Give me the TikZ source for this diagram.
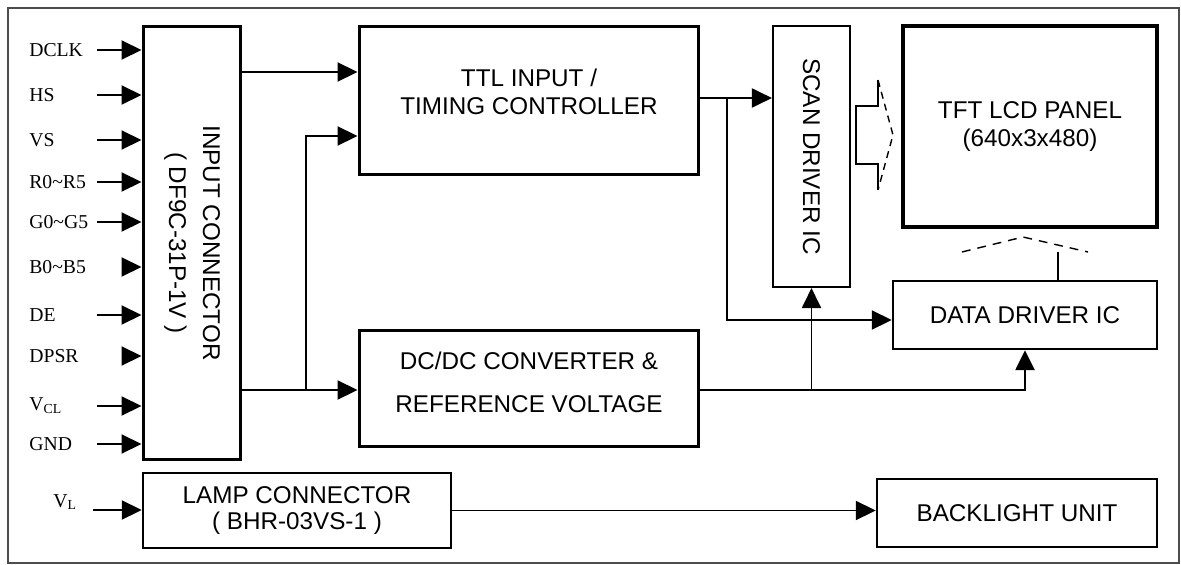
\documentclass[tikz,border=0pt]{standalone}
\usepackage{fontspec}
\setmainfont{Liberation Serif}
\setsansfont{Liberation Sans}
\usetikzlibrary{arrows.meta}

\begin{document}
\begin{tikzpicture}[x=0.02cm,y=-0.02cm,
    block/.style={draw,line width=1.7pt,inner sep=0pt,align=center,
      font=\sffamily\fontsize{13.8}{16}\selectfont},
    thinblock/.style={block,line width=1.2pt},
    sig/.style={anchor=west,inner sep=0pt,font=\fontsize{11.2}{13}\selectfont},
    arr/.style={line width=1.1pt,-{Triangle[length=0.4cm,width=0.38cm]}}]
  \useasboundingbox (0,0) rectangle (1181,565);
  \draw[black!70,line width=1.2pt] (8,8) rectangle (1179,563);

  % blocks
  \node[block,rotate=-90,minimum width=8.68cm,minimum height=1.96cm,
    font=\sffamily\fontsize{13.8}{19.3}\selectfont] (inconn) at (192,243)
    {INPUT CONNECTOR\\( DF9C-31P-1V )};
  \node[block,minimum width=6.8cm,minimum height=2.98cm,text depth=10pt] (ttl) at (529,100.5)
    {TTL INPUT /\\TIMING CONTROLLER};
  \node[block,minimum width=6.8cm,minimum height=2.34cm,text depth=7.5pt,
    font=\sffamily\fontsize{13.8}{24.5}\selectfont] (dcdc) at (529,388.5)
    {DC/DC CONVERTER \&\\REFERENCE VOLTAGE};
  \node[thinblock,rotate=-90,minimum width=5.22cm,minimum height=1.54cm] (scan) at (811.5,156.5)
    {SCAN DRIVER IC};
  \node[block,line width=2pt,minimum width=5.08cm,minimum height=4.02cm] (panel) at (1030,126.5)
    {TFT LCD PANEL\\(640x3x480)};
  \node[thinblock,line width=1.4pt,minimum width=5.28cm,minimum height=1.36cm] (datadrv) at (1025,315)
    {DATA DRIVER IC};
  \node[thinblock,line width=1.4pt,minimum width=6.16cm,minimum height=1.5cm,
    font=\sffamily\fontsize{13.8}{14.5}\selectfont] (lampconn) at (297,510.5)
    {LAMP CONNECTOR\\( BHR-03VS-1 )};
  \node[thinblock,line width=1.4pt,minimum width=5.6cm,minimum height=1.36cm] (backlight) at (1017,513)
    {BACKLIGHT UNIT};

  % input signals
  \foreach \y/\lbl/\x [count=\i] in {50/DCLK/97, 95/HS/97, 140/VS/97, 182/R0\textasciitilde R5/97,
      222/G0\textasciitilde G5/97, 267/B0\textasciitilde B5/124, 315/DE/97, 356/DPSR/124,
      406/{V\textsubscript{CL}}/97, 444/GND/97}{
    \node[sig] (sig\i) at (29,\y) {\lbl};
    \coordinate (src\i) at (\x,\y);
    \draw[arr] (src\i) -- (inconn.south |- src\i);
  }
  \node[sig] (sigvl) at (53,502) {V\textsubscript{L}};
  \coordinate (srcvl) at (93,510);
  \draw[arr] (srcvl) -- (lampconn.west |- srcvl);

  % junctions
  \coordinate (j1) at (306,390);
  \coordinate (j2) at (727,98);
  \coordinate (j3) at (811.5,390);
  \coordinate (j4) at (1025,390);

  \draw[arr] (inconn.north |- 0,72) -- (ttl.west |- 0,72);
  \draw[arr] (inconn.north |- j1) -- (dcdc.west |- j1);
  \draw[arr] (j1) |- (ttl.west |- 0,136);
  \draw[arr] (ttl.east |- j2) -- (scan.south |- j2);
  \draw[arr] (j2) |- (datadrv.west |- 0,320);
  \draw[arr,line width=1.5pt] (dcdc.east |- j4) -| (datadrv.south);
  \draw[arr] (j3) -- (scan.east);
  \draw[arr] (lampconn.east) -- (backlight.west |- lampconn.east);

  % hollow arrows to the panel
  \draw[line width=0.8pt] (878,80) -- (878,106) -- (856,106) -- (856,164) -- (878,164) -- (878,190);
  \draw[line width=0.8pt,dash pattern=on 4pt off 3pt] (878,80) -- (893,135) -- (878,190);
  \draw[line width=0.8pt] (datadrv.north -| 1058,0) -- (1058,252);
  \draw[line width=0.8pt,dash pattern=on 5pt off 4pt] (962,252) -- (1023,237) -- (1088,252);
\end{tikzpicture}
\end{document}
